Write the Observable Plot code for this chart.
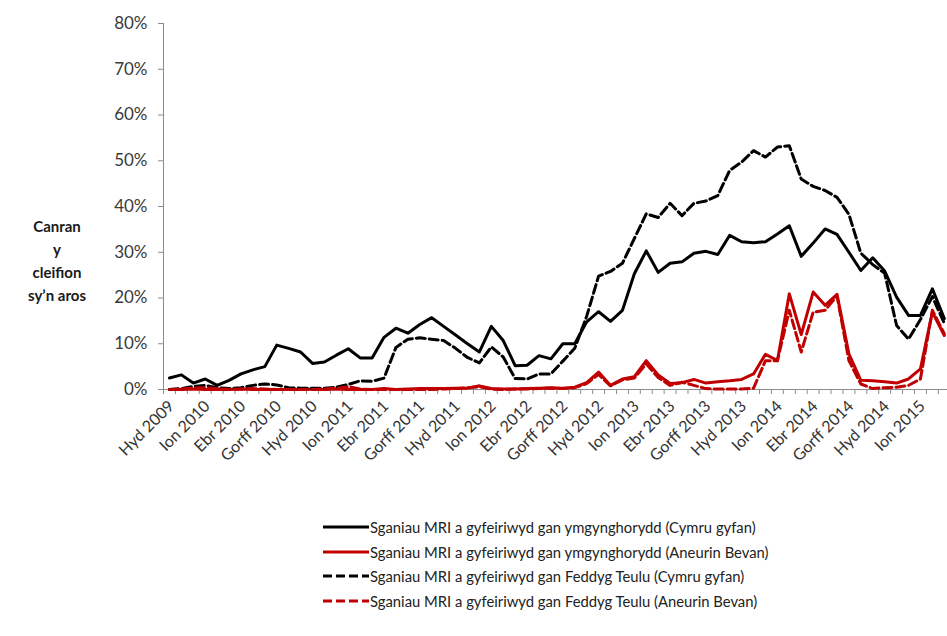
<!DOCTYPE html>
<html>
<head>
<meta charset="utf-8">
<script src="https://cdn.jsdelivr.net/npm/d3@7"></script>
<script src="https://cdn.jsdelivr.net/npm/@observablehq/plot@0.6"></script>
<style>
  html, body { margin: 0; padding: 0; background: #fff; }
  body { width: 947px; height: 636px; overflow: hidden; position: relative; font-family: Lato, "Open Sans", sans-serif; }
  #ytitle { position: absolute; left: 7px; width: 100px; top: 215px; text-align: center; font-weight: bold; font-size: 15px; line-height: 23px; color: #1a1a1a; }
  #legend { padding-top: 25px; margin-left: 323px; }
  .row { display: flex; align-items: center; height: 24.5px; font-size: 14.8px; color: #222; white-space: nowrap; }
  .row svg { display: block; margin-right: 1px; }
</style>
</head>
<body>
<div id="chart"></div>
<div id="legend"></div>
<div id="ytitle">Canran<br>y<br>cleifion<br>sy’n aros</div>
<script>
// Monthly categories, Oct 2009 – Mar 2015
const months = [
  "Hyd 2009","Tach 2009","Rhag 2009",
  "Ion 2010","Chwef 2010","Maw 2010","Ebr 2010","Mai 2010","Meh 2010","Gorff 2010","Awst 2010","Medi 2010","Hyd 2010","Tach 2010","Rhag 2010",
  "Ion 2011","Chwef 2011","Maw 2011","Ebr 2011","Mai 2011","Meh 2011","Gorff 2011","Awst 2011","Medi 2011","Hyd 2011","Tach 2011","Rhag 2011",
  "Ion 2012","Chwef 2012","Maw 2012","Ebr 2012","Mai 2012","Meh 2012","Gorff 2012","Awst 2012","Medi 2012","Hyd 2012","Tach 2012","Rhag 2012",
  "Ion 2013","Chwef 2013","Maw 2013","Ebr 2013","Mai 2013","Meh 2013","Gorff 2013","Awst 2013","Medi 2013","Hyd 2013","Tach 2013","Rhag 2013",
  "Ion 2014","Chwef 2014","Maw 2014","Ebr 2014","Mai 2014","Meh 2014","Gorff 2014","Awst 2014","Medi 2014","Hyd 2014","Tach 2014","Rhag 2014",
  "Ion 2015","Chwef 2015","Maw 2015"
];
const tickLabels = ["Hyd 2009","Ion 2010","Ebr 2010","Gorff 2010","Hyd 2010","Ion 2011","Ebr 2011","Gorff 2011","Hyd 2011","Ion 2012","Ebr 2012","Gorff 2012","Hyd 2012","Ion 2013","Ebr 2013","Gorff 2013","Hyd 2013","Ion 2014","Ebr 2014","Gorff 2014","Hyd 2014","Ion 2015"];
const yTicks = [0, 0.1, 0.2, 0.3, 0.4, 0.5, 0.6, 0.7, 0.8];

// Percent of patients waiting (values in %)
const consultantWales = [2.5,3.2,1.4,2.3,0.9,2.0,3.4,4.3,5.0,9.7,9.0,8.2,5.7,6.0,7.5,8.9,6.9,6.9,11.4,13.4,12.3,14.2,15.7,13.8,11.9,10.0,8.2,13.8,10.7,5.2,5.3,7.4,6.7,10.0,10.0,14.8,17.0,14.9,17.3,25.3,30.3,25.6,27.6,27.9,29.8,30.2,29.5,33.7,32.3,32.1,32.3,34.0,35.8,29.1,32.0,35.1,33.9,30.0,26.0,28.8,25.9,20.2,16.2,16.2,22.0,15.5];
const consultantAB = [0.0,0.0,0.1,0.0,0.0,0.0,0.1,0.0,0.0,0.0,0.0,0.0,0.1,0.0,0.1,0.0,0.0,0.0,0.2,0.0,0.1,0.2,0.2,0.2,0.3,0.3,0.8,0.2,0.1,0.1,0.2,0.3,0.4,0.3,0.5,1.5,3.8,0.9,2.3,2.8,6.3,3.2,1.3,1.5,2.2,1.4,1.7,1.9,2.2,3.4,7.7,6.3,20.9,12.0,21.3,18.4,20.8,7.8,2.0,1.9,1.7,1.4,2.3,4.5,16.9,11.8];
const gpWales = [0.0,0.2,0.7,0.9,0.4,0.2,0.4,0.9,1.2,1.0,0.4,0.3,0.3,0.3,0.5,1.1,1.9,1.8,2.5,9.2,11.0,11.3,11.0,10.7,9.0,7.0,5.8,9.3,7.1,2.4,2.3,3.4,3.4,6.2,9.0,16.0,24.8,25.8,27.6,33.0,38.4,37.6,40.7,38.0,40.7,41.2,42.4,47.9,49.7,52.2,50.8,53.0,53.3,46.0,44.4,43.5,42.0,38.3,29.8,27.3,25.4,14.0,11.0,15.3,20.3,14.5];
const gpAB = [0.0,0.1,0.3,0.4,0.2,0.0,0.1,0.2,0.1,0.0,0.0,0.0,0.0,0.1,0.3,0.6,0.1,0.0,0.0,0.0,0.0,0.0,0.0,0.1,0.2,0.4,0.6,0.1,0.0,0.1,0.1,0.2,0.3,0.2,0.4,1.3,3.3,0.8,2.1,2.5,5.6,2.6,0.9,1.6,0.9,0.2,0.1,0.1,0.1,0.3,6.3,6.3,17.3,8.2,16.9,17.3,20.5,6.3,1.2,0.2,0.4,0.5,0.9,2.3,17.3,12.2];

const seriesNames = [
  "Sganiau MRI a gyfeiriwyd gan ymgynghorydd (Cymru gyfan)",
  "Sganiau MRI a gyfeiriwyd gan ymgynghorydd (Aneurin Bevan)",
  "Sganiau MRI a gyfeiriwyd gan Feddyg Teulu (Cymru gyfan)",
  "Sganiau MRI a gyfeiriwyd gan Feddyg Teulu (Aneurin Bevan)"
];
const seriesValues = [consultantWales, consultantAB, gpWales, gpAB];
const seriesColors = ["#000000", "#C00000", "#000000", "#C00000"];
const seriesDash = [null, null, "9,4", "9,4"];

const rows = seriesValues.flatMap((vals, s) => vals.map((v, i) => ({series: s, i, month: months[i], value: v / 100})));
const boundaries = d3.range(months.length + 1).map(k => k - 0.5);
const labelIdx = tickLabels.map(t => months.indexOf(t));

const axisGray = "#8c8c8c";
const plot = Plot.plot({
  width: 947,
  height: 490,
  marginLeft: 163,
  marginRight: 0,
  marginTop: 23,
  marginBottom: 101,
  style: {fontFamily: "Lato, 'Open Sans', sans-serif", fontSize: "16px", color: "#3a3a3a", background: "#fff"},
  x: {domain: [-0.5, 65.27], axis: null},
  y: {domain: [0, 0.8], axis: null},
  marks: [
    Plot.axisY({ticks: yTicks, tickFormat: d3.format(".0%"), tickSize: 5, tickPadding: 11, stroke: axisGray, label: null, fontSize: 17}),
    Plot.axisX({ticks: boundaries, tickFormat: () => "", tickSize: 5, stroke: axisGray, label: null}),
    Plot.text(labelIdx, {
      x: d => d, y: () => 0, text: d => months[d],
      rotate: -45, textAnchor: "end", lineAnchor: "middle",
      dx: 2, dy: 14, fontSize: 16, fill: "#333333"
    }),
    Plot.ruleX([-0.5], {stroke: axisGray}),
    Plot.ruleY([0], {stroke: axisGray}),
    ...seriesValues.map((_, s) => Plot.line(rows.filter(d => d.series === s), {
      x: "i", y: "value", stroke: seriesColors[s], strokeWidth: 3,
      strokeDasharray: seriesDash[s], strokeLinejoin: "round"
    }))
  ]
});
document.getElementById("chart").appendChild(plot);

// Legend below the chart
const legend = document.getElementById("legend");
seriesNames.forEach((name, s) => {
  const row = document.createElement("div");
  row.className = "row";
  const dash = seriesDash[s] ? `stroke-dasharray="${seriesDash[s]}"` : "";
  row.innerHTML = `<svg width="46" height="10"><line x1="0" y1="5" x2="46" y2="5" stroke="${seriesColors[s]}" stroke-width="3" ${dash}/></svg><span>${name}</span>`;
  legend.appendChild(row);
});
</script>
</body>
</html>
